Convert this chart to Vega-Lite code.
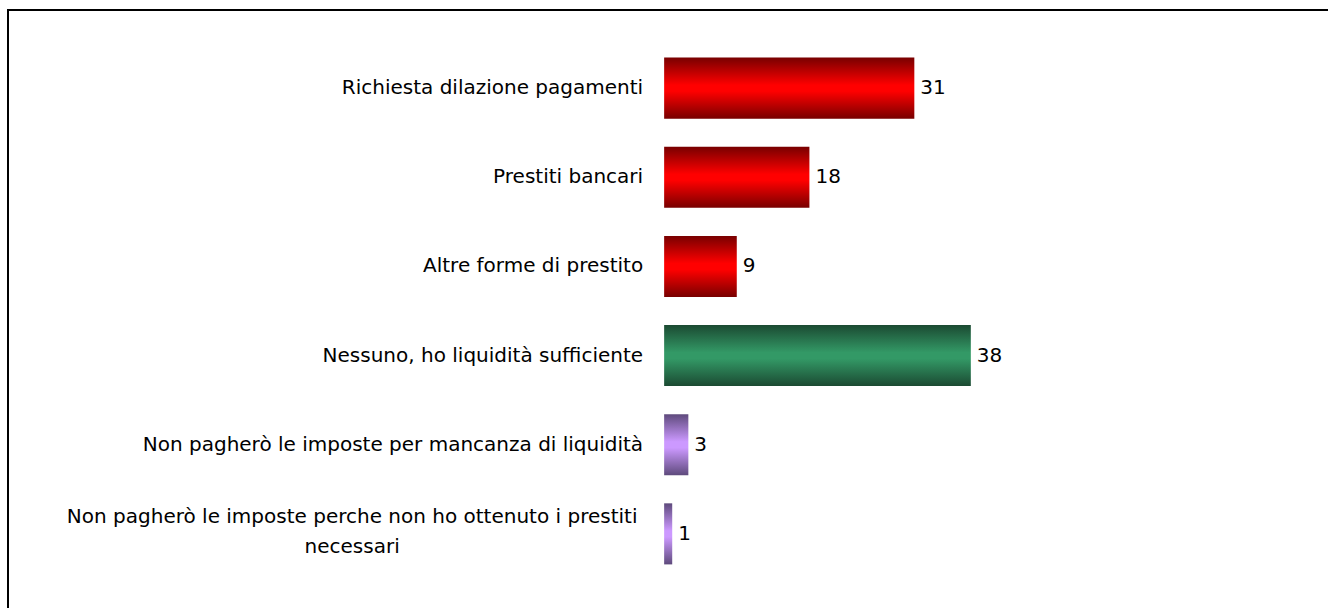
{
  "$schema": "https://vega.github.io/schema/vega-lite/v6.json",
  "width": 1326,
  "height": 602,
  "autosize": {"type": "none"},
  "padding": {"left": 8, "top": 10, "right": -6, "bottom": -4},
  "background": "white",
  "config": {
    "view": {"stroke": "black", "strokeWidth": 2},
    "text": {"font": "DejaVu Sans", "fontSize": 20, "fill": "black"}
  },
  "data": {
    "values": [
      {"cat": "Richiesta dilazione pagamenti", "value": 31, "grp": "r", "wrap": false},
      {"cat": "Prestiti bancari", "value": 18, "grp": "r", "wrap": false},
      {"cat": "Altre forme di prestito", "value": 9, "grp": "r", "wrap": false},
      {"cat": "Nessuno, ho liquidità sufficiente", "value": 38, "grp": "g", "wrap": false},
      {"cat": "Non pagherò le imposte per mancanza di liquidità", "value": 3, "grp": "p", "wrap": false},
      {"cat": "Non pagherò le imposte perche non ho ottenuto i prestiti\nnecessari", "value": 1, "grp": "p", "wrap": true}
    ]
  },
  "encoding": {
    "y": {"field": "cat", "type": "nominal", "sort": null, "axis": null,
          "scale": {"paddingInner": 0.315, "paddingOuter": 0.534}}
  },
  "layer": [
    {
      "mark": {"type": "bar"},
      "encoding": {
        "x": {"field": "value", "type": "quantitative", "axis": null,
              "scale": {"domain": [-81.3, 83.0], "nice": false, "zero": false}},
        "x2": {"datum": 0},
        "color": {
          "condition": [
            {"test": "datum.grp === 'r'", "value": {"gradient": "linear", "x1": 0, "y1": 0, "x2": 0, "y2": 1,
              "stops": [{"offset": 0, "color": "#780000"}, {"offset": 0.45, "color": "#ff0000"}, {"offset": 0.55, "color": "#ff0000"}, {"offset": 1, "color": "#780000"}]}},
            {"test": "datum.grp === 'g'", "value": {"gradient": "linear", "x1": 0, "y1": 0, "x2": 0, "y2": 1,
              "stops": [{"offset": 0, "color": "#1b4a32"}, {"offset": 0.45, "color": "#339966"}, {"offset": 0.55, "color": "#339966"}, {"offset": 1, "color": "#1b4a32"}]}}
          ],
          "value": {"gradient": "linear", "x1": 0, "y1": 0, "x2": 0, "y2": 1,
              "stops": [{"offset": 0, "color": "#5e4a7c"}, {"offset": 0.45, "color": "#cc99ff"}, {"offset": 0.55, "color": "#cc99ff"}, {"offset": 1, "color": "#5e4a7c"}]}
        }
      }
    },
    {
      "mark": {"type": "text", "align": "left", "baseline": "middle", "dx": 6},
      "encoding": {
        "x": {"field": "value", "type": "quantitative"},
        "text": {"field": "value", "type": "quantitative"}
      }
    },
    {
      "transform": [{"filter": "!datum.wrap"}],
      "mark": {"type": "text", "align": "right", "baseline": "middle", "dx": -21},
      "encoding": {
        "x": {"datum": 0},
        "text": {"field": "cat", "type": "nominal"}
      }
    },
    {
      "transform": [{"filter": "datum.wrap"}],
      "mark": {"type": "text", "align": "center", "baseline": "middle", "dx": -312, "dy": -17, "lineBreak": "\n", "lineHeight": 30},
      "encoding": {
        "x": {"datum": 0},
        "text": {"field": "cat", "type": "nominal"}
      }
    }
  ]
}
